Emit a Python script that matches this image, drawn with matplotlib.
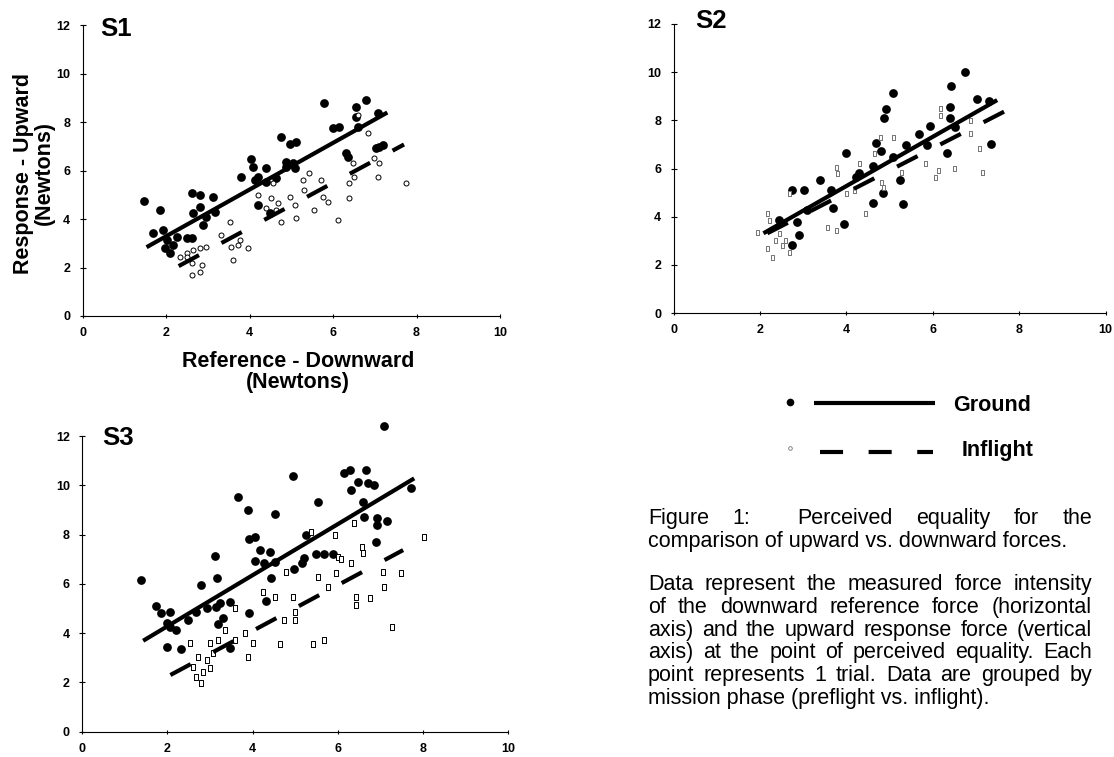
import matplotlib
matplotlib.use("Agg")
import matplotlib.pyplot as plt

plt.rcParams['font.family'] = ['Liberation Sans', 'DejaVu Sans']
plt.rcParams['lines.scale_dashes'] = False

W, H = 1114, 757

# ---- S1 ----
s1_ground_x = [1.47, 1.85, 1.69, 1.93, 2.01, 1.97, 2.09, 2.17, 2.25, 2.49, 2.61, 2.61, 2.80,
               2.64, 2.80, 2.88, 3.12, 3.16, 2.96, 3.80, 4.04, 4.08, 4.12, 4.20, 4.40, 4.40,
               4.63, 4.76, 4.96, 5.12, 4.88, 5.04, 4.88, 5.08, 4.20, 4.48, 5.79, 5.99, 6.15,
               6.31, 6.35, 6.59, 6.55, 6.79, 6.55, 7.03, 7.11, 7.19, 7.07]
s1_ground_y = [4.73, 4.37, 3.41, 3.55, 3.14, 2.79, 2.59, 2.93, 3.27, 3.20, 3.20, 5.06, 4.99,
               4.24, 4.51, 3.76, 4.92, 4.30, 4.10, 5.75, 6.50, 6.16, 5.61, 5.75, 6.09, 5.54,
               5.68, 7.40, 7.12, 7.19, 6.37, 6.30, 6.16, 6.09, 4.58, 4.24, 8.78, 7.74, 7.81,
               6.71, 6.57, 7.81, 8.64, 8.91, 8.23, 6.92, 6.99, 7.06, 8.36]
s1_flight_x = [2.33, 2.49, 2.65, 2.80, 2.96, 2.61, 2.85, 2.80, 2.61, 2.49, 3.32, 3.52, 3.56,
               3.72, 3.76, 3.96, 3.60, 4.20, 4.56, 4.52, 4.68, 4.64, 4.76, 4.40, 4.96, 5.08,
               5.10, 5.27, 5.43, 5.31, 5.55, 5.71, 5.75, 5.87, 6.11, 6.39, 6.39, 6.47, 6.51,
               6.59, 6.83, 6.99, 7.11, 7.07, 7.75]
s1_flight_y = [2.45, 2.59, 2.72, 2.79, 2.86, 2.17, 2.10, 1.83, 1.69, 2.45, 3.34, 3.89, 2.86,
               2.93, 3.14, 2.79, 2.31, 4.99, 5.47, 4.86, 4.65, 4.37, 3.89, 4.44, 4.92, 4.58,
               4.03, 5.61, 5.91, 5.20, 4.37, 5.61, 4.92, 4.72, 3.96, 5.50, 4.86, 6.30, 5.75,
               8.29, 7.54, 6.51, 6.30, 5.75, 5.50]
s1_ground_fit = ([1.53, 7.30], [2.84, 8.40])
s1_flight_fit = ([2.30, 7.70], [2.06, 7.08])

# ---- S2 ----
s2_ground_x = [5.08, 6.75, 6.42, 4.92, 4.88, 7.02, 7.30, 6.40, 6.40, 5.93, 5.69, 5.39, 5.08,
               4.81, 4.69, 5.86, 6.32, 7.34, 6.52, 3.99, 4.61, 4.30, 4.22, 3.64, 3.40, 2.74,
               3.01, 4.84, 5.23, 4.61, 5.31, 3.68, 3.09, 2.86, 2.43, 2.90, 2.74, 3.95]
s2_ground_y = [9.12, 10.02, 9.43, 8.46, 8.08, 8.87, 8.82, 8.54, 8.08, 7.76, 7.43, 6.98, 6.49,
               6.73, 7.05, 6.98, 6.63, 7.02, 7.74, 6.63, 6.10, 5.80, 5.66, 5.11, 5.52, 5.11,
               5.11, 4.97, 5.52, 4.55, 4.53, 4.35, 4.28, 3.79, 3.86, 3.24, 2.82, 3.70]
s2_flight_x = [2.16, 1.92, 2.20, 2.16, 2.66, 2.59, 2.43, 2.35, 2.66, 2.27, 2.51, 3.75, 3.79,
               3.56, 3.75, 4.30, 4.18, 4.42, 4.77, 5.08, 4.65, 4.81, 4.84, 3.99, 5.27, 5.82,
               6.17, 6.17, 6.13, 6.48, 6.05, 6.87, 7.06, 7.14, 6.87]
s2_flight_y = [4.14, 3.38, 3.86, 2.69, 4.97, 3.03, 3.31, 3.03, 2.55, 2.34, 2.82, 6.08, 5.80,
               3.58, 3.45, 6.21, 5.11, 4.14, 7.32, 7.32, 6.63, 5.44, 5.25, 4.97, 5.87, 6.21,
               8.50, 8.22, 5.94, 6.01, 5.66, 7.46, 6.84, 5.87, 8.01]
s2_ground_fit = ([2.08, 7.49], [3.31, 8.84])
s2_flight_fit = ([2.17, 7.65], [3.31, 8.36])

# ---- S3 ----
s3_ground_x = [1.39, 1.74, 1.85, 2.06, 1.98, 2.06, 2.21, 2.00, 2.33, 2.48, 2.68, 2.78, 2.92,
               3.11, 3.17, 3.15, 3.23, 3.31, 3.19, 3.46, 3.48, 3.66, 3.89, 3.92, 3.92, 4.05,
               4.05, 4.17, 4.28, 4.42, 4.44, 4.31, 4.52, 4.54, 4.96, 4.98, 5.17, 5.22, 5.25,
               5.54, 5.50, 5.69, 5.89, 6.16, 6.28, 6.32, 6.47, 6.67, 6.71, 6.86, 6.59, 6.61,
               6.93, 6.93, 6.90, 7.15, 7.10, 7.72]
s3_ground_y = [6.16, 5.10, 4.80, 4.87, 4.40, 4.26, 4.13, 3.45, 3.34, 4.53, 4.87, 5.95, 5.01,
               7.13, 6.25, 5.07, 5.21, 4.60, 4.37, 5.28, 3.38, 9.54, 9.00, 4.80, 7.81, 7.92,
               6.93, 7.37, 6.83, 7.31, 6.22, 5.32, 6.90, 8.84, 10.38, 6.60, 6.86, 7.04, 7.98,
               9.34, 7.21, 7.21, 7.21, 10.51, 10.61, 9.81, 10.15, 10.61, 10.11, 10.01, 9.34,
               8.70, 8.66, 8.39, 7.71, 8.57, 12.41, 9.88]
s3_flight_x = [2.53, 2.60, 2.68, 2.72, 2.80, 2.84, 2.92, 2.99, 3.07, 2.99, 3.19, 3.35, 3.60,
               3.58, 3.82, 3.89, 4.01, 4.25, 4.52, 4.64, 4.73, 4.78, 4.95, 4.99, 4.99, 5.38,
               5.42, 5.54, 5.69, 5.77, 5.93, 5.97, 6.00, 6.08, 6.32, 6.38, 6.44, 6.44, 6.58,
               6.59, 6.75, 7.06, 7.10, 7.29, 7.49, 8.04]
s3_flight_y = [3.59, 2.64, 2.23, 3.04, 1.96, 2.44, 2.91, 2.57, 3.18, 3.59, 3.72, 4.13, 5.00,
               3.72, 3.99, 3.04, 3.59, 5.68, 5.48, 3.56, 4.53, 6.50, 5.48, 4.87, 4.53, 8.12,
               3.56, 6.29, 3.72, 5.89, 7.98, 6.43, 7.10, 7.00, 6.83, 8.46, 5.48, 5.14, 7.51,
               7.24, 5.41, 6.50, 5.89, 4.26, 6.43, 7.89]
s3_ground_fit = ([1.43, 7.80], [3.69, 10.28])
s3_flight_fit = ([2.07, 7.54], [2.30, 7.37])

x_ticks = [0, 2, 4, 6, 8, 10]
y_ticks = [0, 2, 4, 6, 8, 10, 12]

DASH = (0, (16.6, 18.4))
RECT = [(-0.6, -1), (0.6, -1), (0.6, 1), (-0.6, 1), (-0.6, -1)]

fig = plt.figure(figsize=(W / 100, H / 100), dpi=100)


def panel(rect, name, gx, gy, fx, fy, gfit, ffit, fmarker, fcolor, fsize, tpos):
    ax = fig.add_axes(rect)
    ax.plot(gx, gy, 'o', ms=6.3, color='black', mew=0, clip_on=False, zorder=2)
    ax.plot(fx, fy, linestyle='none', marker=fmarker, ms=fsize, mfc='white',
            mec=fcolor, mew=0.7, clip_on=False, zorder=2)
    ax.plot(gfit[0], gfit[1], color='black', lw=3.0, solid_capstyle='butt', zorder=3)
    ax.plot(ffit[0], ffit[1], color='black', lw=3.0, linestyle=DASH,
            dash_capstyle='butt', zorder=3)
    ax.set_xlim(0, 10)
    ax.set_ylim(0, 12)
    ax.set_xticks(x_ticks)
    ax.set_yticks(y_ticks)
    for s in ('top', 'right'):
        ax.spines[s].set_visible(False)
    for s in ('left', 'bottom'):
        ax.spines[s].set_linewidth(0.8)
    ax.tick_params(axis='y', direction='inout', length=4, width=0.8, pad=7)
    ax.tick_params(axis='x', direction='inout', length=2.5, width=0.8, pad=7)
    for lab in ax.get_xticklabels() + ax.get_yticklabels():
        lab.set_fontsize(9)
        lab.set_fontweight('bold')
    ax.text(tpos[0], tpos[1], name, transform=ax.transAxes, fontsize=18.5,
            fontweight='bold', va='baseline', ha='left')
    ax.patch.set_alpha(0)
    return ax


panel([82.7 / W, 1 - 316 / H, 417.3 / W, 290.7 / H], 'S1',
      s1_ground_x, s1_ground_y, s1_flight_x, s1_flight_y, s1_ground_fit, s1_flight_fit,
      'o', 'black', 3.6, (0.041, 0.963))
panel([673.6 / W, 1 - 313 / H, 432 / W, 289 / H], 'S2',
      s2_ground_x, s2_ground_y, s2_flight_x, s2_flight_y, s2_ground_fit, s2_flight_fit,
      RECT, '0.45', 3.6, (0.05, 0.986))
panel([82.3 / W, 1 - 731.7 / H, 425.5 / W, 295.7 / H], 'S3',
      s3_ground_x, s3_ground_y, s3_flight_x, s3_flight_y, s3_ground_fit, s3_flight_fit,
      RECT, 'black', 4.0, (0.046, 0.970))

# axis titles (shared, drawn beside S1)
fig.text(34 / W, 1 - 173 / H, 'Response - Upward\n(Newtons)', rotation=90,
         ha='center', va='center', fontsize=15.5, fontweight='bold', linespacing=1.0)
fig.text(298 / W, 1 - 372 / H, 'Reference - Downward\n(Newtons)',
         ha='center', va='center', fontsize=15.5, fontweight='bold', linespacing=1.0)

# legend block
leg = fig.add_axes([770 / W, 1 - 470 / H, 290 / W, 90 / H])
leg.set_xlim(770, 1060)
leg.set_ylim(470, 380)
leg.axis('off')
leg.plot([790], [402], 'o', ms=5.5, color='black', mew=0)
leg.plot([814, 935], [403, 403], color='black', lw=3.0, solid_capstyle='butt')
leg.text(953, 411, 'Ground', fontsize=15.5, fontweight='bold', va='baseline')
leg.plot([790], [448], 'o', ms=2.6, mfc='white', mec='0.45', mew=0.6)
leg.plot([820, 933], [452, 452], color='black', lw=3.0, linestyle=DASH,
         dash_capstyle='butt')
leg.text(962, 456, 'Inflight', fontsize=15.5, fontweight='bold', va='baseline')

# caption, justified like the printed original
cap_left, cap_right, cap_size = 648, 1092, 15.5
renderer = fig.canvas.get_renderer()


def caption_line(line, y_px, justify=True):
    if not justify:
        fig.text(cap_left / W, 1 - y_px / H, line, fontsize=cap_size, va='baseline')
        return
    words = line.split(' ')
    texts = [fig.text(0, 1 - y_px / H, w, fontsize=cap_size, va='baseline') for w in words]
    widths = [t.get_window_extent(renderer).width if w else 0.0
              for t, w in zip(texts, words)]
    gap = (cap_right - cap_left - sum(widths)) / (len(words) - 1)
    x = cap_left
    for t, w in zip(texts, widths):
        t.set_x(x / W)
        x += w + gap


caption_line('Figure 1:  Perceived equality for the', 524)
caption_line('comparison of upward vs. downward forces.', 547, justify=False)
caption_line('Data represent the measured force intensity', 590)
caption_line('of the downward reference force (horizontal', 613)
caption_line('axis) and the upward response force (vertical', 636)
caption_line('axis) at the point of perceived equality. Each', 658)
caption_line('point represents 1 trial. Data are grouped by', 681)
caption_line('mission phase (preflight vs. inflight).', 704, justify=False)

fig.savefig('out.png', dpi=100)
